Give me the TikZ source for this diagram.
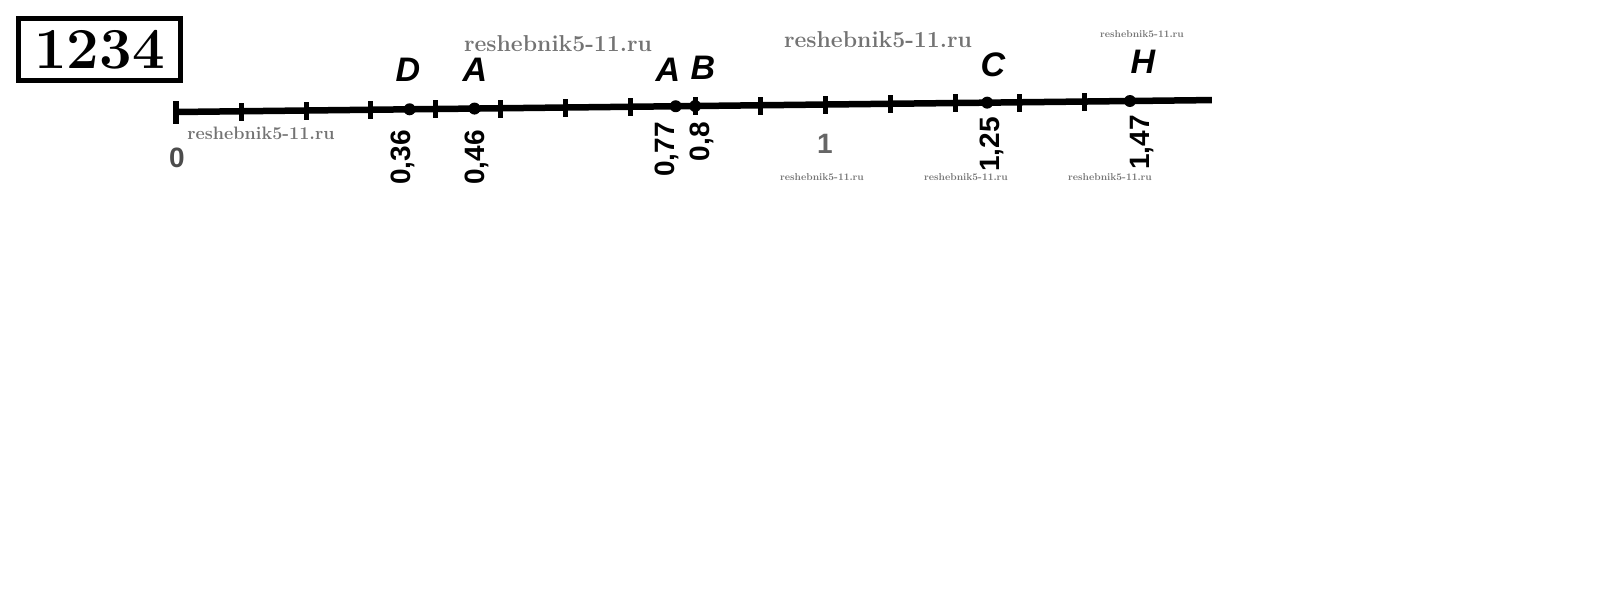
\documentclass[tikz,border=0pt]{standalone}
\usepackage{fontspec}
\newfontfamily\lblfont{Liberation Sans}
\begin{document}
\begin{tikzpicture}[x=1pt,y=-1pt,
  axisline/.style={line width=6.5pt,black},
  tickbar/.style={draw=black,fill=black,inner sep=0pt,minimum width=4pt,minimum height=17pt,rectangle},
  ptdot/.style={draw=none,fill=black,circle,inner sep=0pt,minimum size=12pt},
  ptletter/.style={font=\lblfont\fontsize{34}{34}\selectfont\bfseries\itshape},
  numlbl/.style={font=\lblfont\fontsize{28}{28}\selectfont\bfseries,rotate=90,anchor=east,inner sep=0pt},
  wm/.style={text=black!55,font=\bfseries},
]
\useasboundingbox (0,0) rectangle (1605,600);
% problem number box
\node[draw=black,line width=5pt,minimum width=162pt,minimum height=62pt,inner sep=0pt,
  font=\fontsize{58}{58}\selectfont\bfseries] (num) at (99.5,49.5) {1234};
% watermarks
\node[wm,font=\fontsize{23}{23}\selectfont\bfseries] (w1) at (558,44) {reshebnik5-11.ru};
\node[wm,font=\fontsize{23}{23}\selectfont\bfseries] (w2) at (878,40) {reshebnik5-11.ru};
\node[wm,font=\fontsize{10}{10}\selectfont\bfseries] (w3) at (1142,34) {reshebnik5-11.ru};
\node[wm,font=\fontsize{18}{18}\selectfont\bfseries] (w4) at (261,133) {reshebnik5-11.ru};
\node[wm,font=\fontsize{10}{10}\selectfont\bfseries] (w5) at (822,177) {reshebnik5-11.ru};
\node[wm,font=\fontsize{10}{10}\selectfont\bfseries] (w6) at (966,177) {reshebnik5-11.ru};
\node[wm,font=\fontsize{10}{10}\selectfont\bfseries] (w7) at (1110,177) {reshebnik5-11.ru};
% number line (slightly tilted as in the scan)
\begin{scope}[shift={(176,112)},rotate=0.66]
  \coordinate (start) at (0,0);
  \coordinate (end) at (1036,0);
  \draw[axisline] (start) -- (end);
  \node[tickbar,minimum height=22pt,minimum width=5pt] (t0) at (0,0) {};
  \foreach \i in {1,...,14} {
    \node[tickbar] (t\i) at ({64.9*\i},0) {};
  }
  \node[ptdot] (pD) at ({649*0.36},0) {};
  \node[ptdot] (pA) at ({649*0.46},0) {};
  \node[ptdot] (pA2) at ({649*0.77},0) {};
  \node[ptdot] (pB) at ({649*0.8},0) {};
  \node[ptdot] (pC) at ({649*1.25},0) {};
  \node[ptdot] (pH) at ({649*1.47},0) {};
\end{scope}
% point letters
\node[ptletter] (lD) at (408,70) {D};
\node[ptletter] (lA) at (475,70) {A};
\node[ptletter] (lA2) at (668,70) {A};
\node[ptletter] (lB) at (703,68) {B};
\node[ptletter] (lC) at (993,65) {C};
\node[ptletter] (lH) at (1143,62) {H};
% value labels
\node[font=\lblfont\fontsize{28}{28}\selectfont\bfseries,text=black!70] (n0) at (177,158) {0};
\node[font=\lblfont\fontsize{28}{28}\selectfont\bfseries,text=black!60] (n1) at (825,144) {1};
\node[numlbl] (v036) at (403,130) {0,36};
\node[numlbl] (v046) at (477,130) {0,46};
\node[numlbl] (v077) at (667,122) {0,77};
\node[numlbl] (v08) at (702,122) {0,8};
\node[numlbl] (v125) at (992,117) {1,25};
\node[numlbl] (v147) at (1142,115) {1,47};
\end{tikzpicture}
\end{document}
